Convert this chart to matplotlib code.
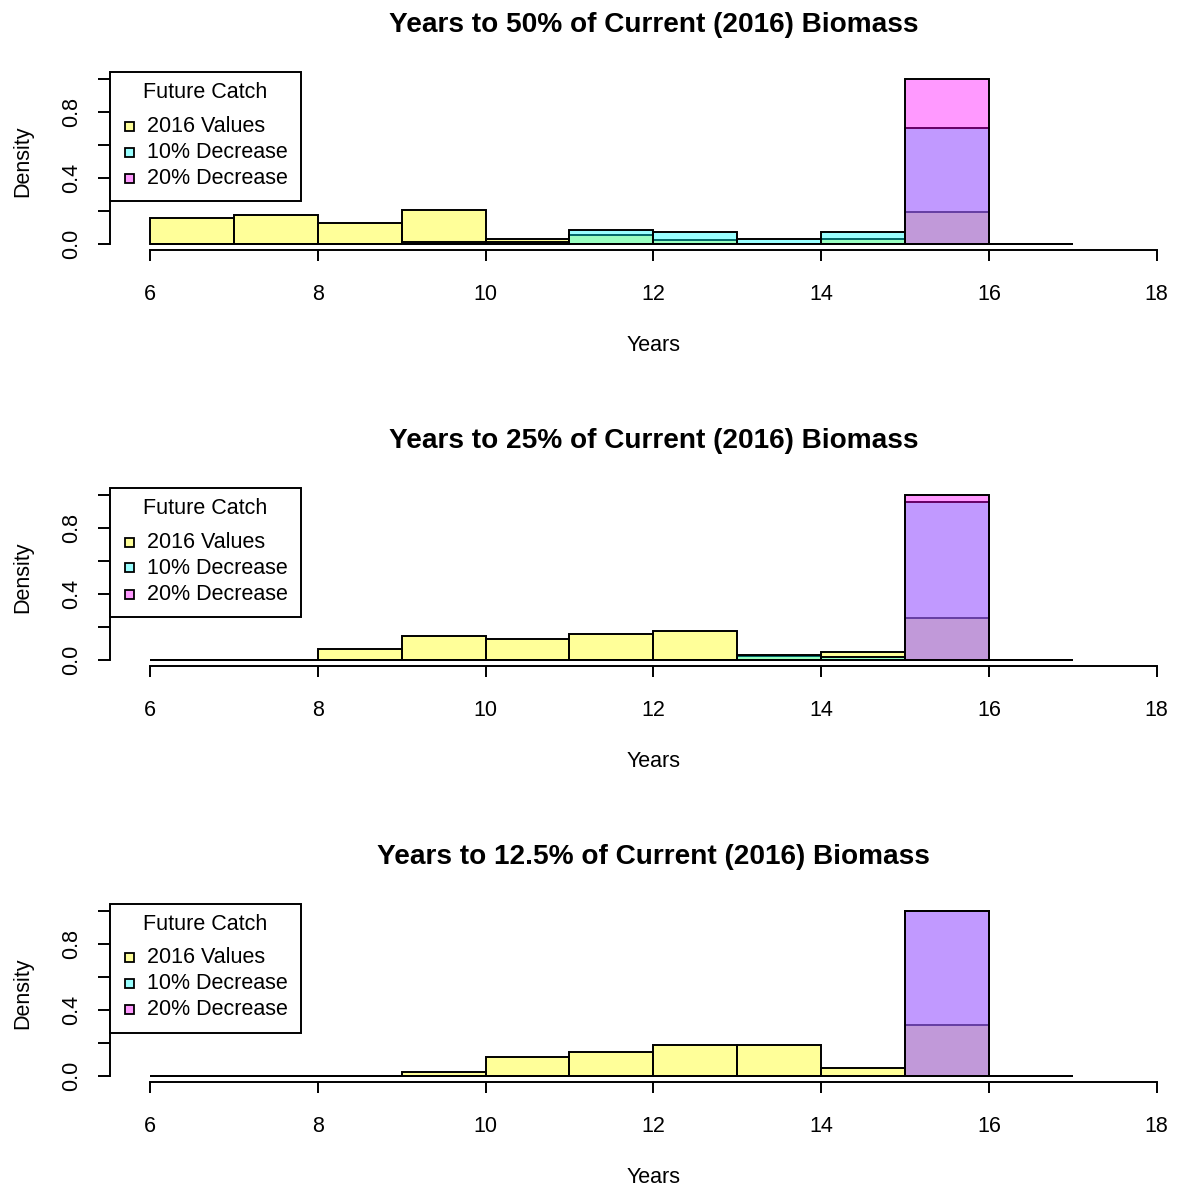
import numpy as np
import matplotlib
matplotlib.use('Agg')
import matplotlib.pyplot as plt
from matplotlib.patches import Rectangle

plt.rcParams['font.family'] = ['Liberation Sans', 'DejaVu Sans']

# histogram breaks (years) and densities
breaks = np.arange(6, 18)
titles = ['Years to 50% of Current (2016) Biomass',
          'Years to 25% of Current (2016) Biomass',
          'Years to 12.5% of Current (2016) Biomass']
series_names = ['2016 Values', '10% Decrease', '20% Decrease']

# panel 1 (50%)
p1_2016 = [0.158, 0.176, 0.128, 0.206, 0.030, 0.053, 0.022, 0.0, 0.028, 0.194, 0.0]
p1_10 = [0.0, 0.0, 0.0, 0.012, 0.010, 0.083, 0.071, 0.032, 0.071, 0.700, 0.0]
p1_20 = [0.0, 0.0, 0.0, 0.0, 0.0, 0.0, 0.0, 0.0, 0.0, 1.0, 0.0]
# panel 2 (25%)
p2_2016 = [0.0, 0.0, 0.067, 0.147, 0.127, 0.158, 0.176, 0.025, 0.048, 0.253, 0.0]
p2_10 = [0.0, 0.0, 0.0, 0.0, 0.0, 0.0, 0.0, 0.030, 0.016, 0.959, 0.0]
p2_20 = [0.0, 0.0, 0.0, 0.0, 0.0, 0.0, 0.0, 0.0, 0.0, 1.0, 0.0]
# panel 3 (12.5%)
p3_2016 = [0.0, 0.0, 0.0, 0.020, 0.111, 0.141, 0.183, 0.183, 0.048, 0.308, 0.0]
p3_10 = [0.0, 0.0, 0.0, 0.0, 0.0, 0.0, 0.0, 0.0, 0.0, 1.0, 0.0]
p3_20 = [0.0, 0.0, 0.0, 0.0, 0.0, 0.0, 0.0, 0.0, 0.0, 1.0, 0.0]

panels = [[p1_2016, p1_10, p1_20],
          [p2_2016, p2_10, p2_20],
          [p3_2016, p3_10, p3_20]]

cols = [(1, 1, 0, 0.4), (0, 1, 1, 0.4), (1, 0, 1, 0.4)]

W, H = 1178, 1188
fig = plt.figure(figsize=(W / 100, H / 100), dpi=100)


def fx(x):
    return x / W


def fy(y):
    return 1 - y / H


# plot regions in pixels (R style, usr extended 4%)
left_px, right_px = 109.7, 1197
tops = [72.4, 488.4, 904.2]
hgt = 178

for k in range(3):
    ax = fig.add_axes([fx(left_px), fy(tops[k] + hgt),
                       (right_px - left_px) / W, hgt / H])
    for s in range(3):
        ax.bar(breaks[:-1], panels[k][s], width=1, align='edge',
               color=cols[s], edgecolor='black', linewidth=1.4, zorder=2 + s)
    ax.set_xlim(6 - 0.48, 18 + 0.48)
    ax.set_ylim(-0.04, 1.04)
    for sp in ['top', 'right']:
        ax.spines[sp].set_visible(False)
    ax.spines['left'].set_bounds(0, 1)
    ax.spines['bottom'].set_bounds(6, 18)
    ax.spines['left'].set_linewidth(1.4)
    ax.spines['bottom'].set_linewidth(1.4)
    ax.set_xticks([6, 8, 10, 12, 14, 16, 18])
    ax.set_yticks([0, 0.2, 0.4, 0.6, 0.8, 1.0])
    ax.set_yticklabels(['0.0', '', '0.4', '', '0.8', ''], rotation=90, va='center')
    ax.tick_params(axis='x', length=8, width=1.4, pad=16, labelsize=15.5)
    ax.tick_params(axis='y', length=9, width=1.4, pad=11, labelsize=15.5)
    ax.set_xlabel('Years', fontsize=15.5, labelpad=22)
    ax.set_ylabel('Density', fontsize=15.5, labelpad=20)
    ax.set_title(titles[k], fontsize=20.2, fontweight='bold', pad=29)

    # legend, R style (topleft)
    t = tops[k]
    fig.patches.append(Rectangle((fx(left_px), fy(t + 129)), (301 - left_px) / W,
                                 129 / H, transform=fig.transFigure,
                                 facecolor='white', edgecolor='black',
                                 linewidth=1.4, zorder=10))
    fig.text(fx(205.5), fy(t + 20), 'Future Catch', fontsize=15.5,
             ha='center', va='center', zorder=11)
    for s in range(3):
        yc = t + 53.6 + 26 * s
        fig.patches.append(Rectangle((fx(124.5), fy(yc + 4.5)), 9 / W, 9 / H,
                                     transform=fig.transFigure,
                                     facecolor=cols[s], edgecolor='black',
                                     linewidth=1.3, zorder=11))
        fig.text(fx(147), fy(yc), series_names[s], fontsize=15.5,
                 ha='left', va='center', zorder=11)

plt.savefig('out.png', dpi=100)
